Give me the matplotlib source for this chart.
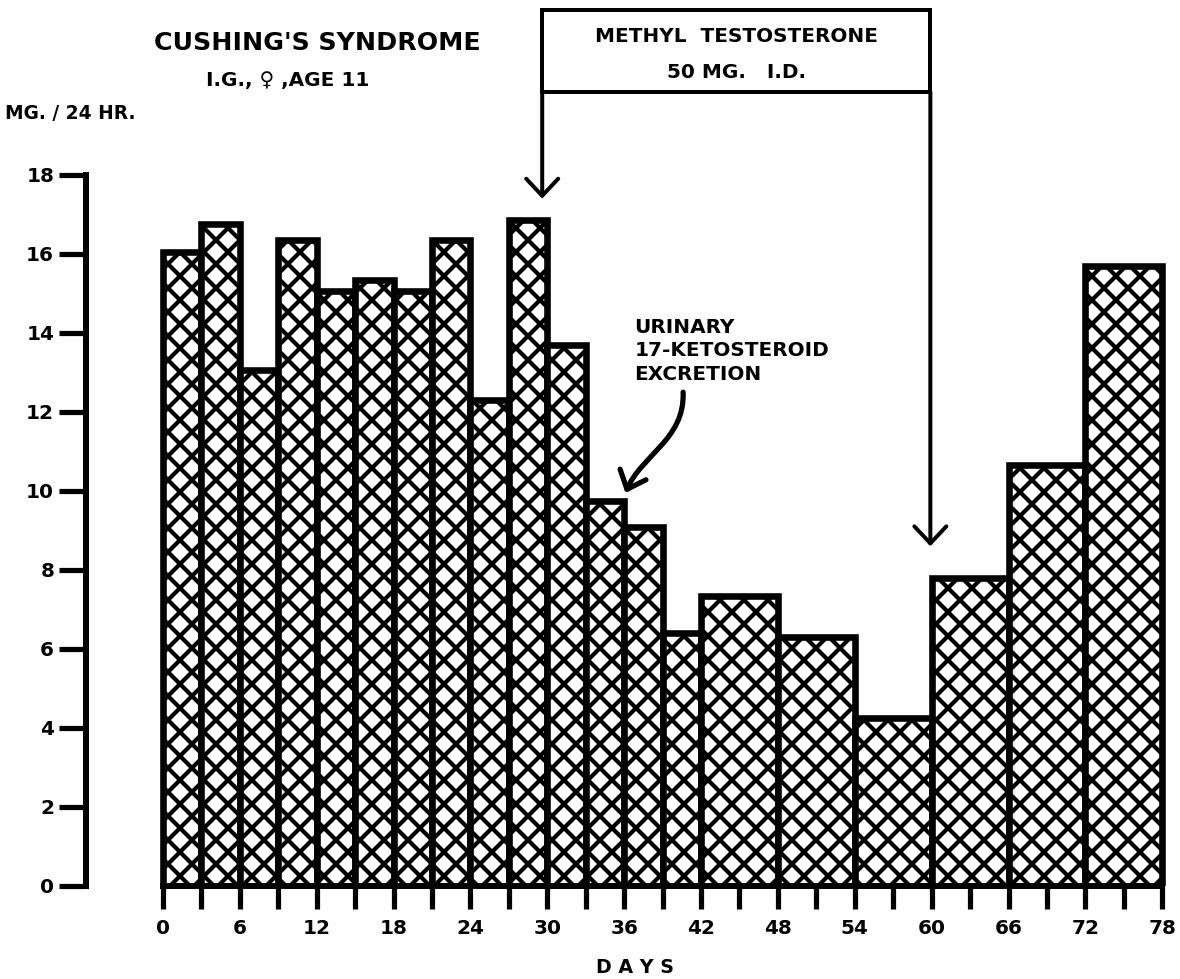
import matplotlib
matplotlib.use("Agg")
import matplotlib.pyplot as plt
from matplotlib.patches import Rectangle, FancyArrowPatch
from matplotlib.path import Path

# Urinary 17-ketosteroid excretion, mg / 24 hr, per collection period (days)
day_start = [0, 3, 6, 9, 12, 15, 18, 21, 24, 27, 30, 33, 36, 39, 42, 48, 54, 60, 66, 72]
day_end = [3, 6, 9, 12, 15, 18, 21, 24, 27, 30, 33, 36, 39, 42, 48, 54, 60, 66, 72, 78]
excretion = [16.05, 16.75, 13.05, 16.35, 15.05, 15.35, 15.05, 16.35, 12.3, 16.85,
             13.7, 9.75, 9.1, 6.4, 7.35, 6.3, 4.25, 7.8, 10.65, 15.7]

x_ticks = list(range(0, 79, 6))
x_minor = list(range(3, 78, 6))
y_ticks = list(range(0, 19, 2))

plt.rcParams["font.family"] = "DejaVu Sans"
plt.rcParams["font.weight"] = "bold"
plt.rcParams["hatch.linewidth"] = 2.1
plt.rcParams["hatch.color"] = "black"

DPI = 144
fig = plt.figure(figsize=(1180 / DPI, 979 / DPI), dpi=DPI)
ax = fig.add_axes([0.0730, 0.0950, 0.9228, 0.7263])

widths = [e - s for s, e in zip(day_start, day_end)]
ax.bar(day_start, excretion, width=widths, align="edge", color="white",
       edgecolor="black", linewidth=3.3, hatch="xx", joinstyle="miter")

ax.set_xlim(-6, 79)
ax.set_ylim(0, 18)
ax.spines["top"].set_visible(False)
ax.spines["right"].set_visible(False)
ax.spines["left"].set_bounds(0, 18)
ax.spines["bottom"].set_bounds(0, 78)
ax.spines["left"].set_linewidth(3.0)
ax.spines["bottom"].set_linewidth(3.0)

ax.set_xticks(x_ticks)
ax.set_xticks(x_minor, minor=True)
ax.set_yticks(y_ticks)
ax.tick_params(axis="x", which="both", direction="out", length=11.5, width=2.6, pad=5, labelsize=10)
ax.tick_params(axis="y", direction="out", length=13.5, width=2.6, pad=2.5, labelsize=10)
for lab in ax.get_xticklabels() + ax.get_yticklabels():
    lab.set_fontweight("bold")

# titles and labels
fig.text(0.2686, 0.956, "CUSHING'S SYNDROME", ha="center", va="center", fontsize=12.6, fontweight="bold")
fig.text(0.244, 0.918, "I.G., \u2640 ,AGE 11", ha="center", va="center", fontsize=10, fontweight="bold")
fig.text(0.004, 0.8836, "MG. / 24 HR.", ha="left", va="center", fontsize=9.3, fontweight="bold")
fig.text(0.538, 0.012, "D A Y S", ha="center", va="center", fontsize=9.5, fontweight="bold")

# treatment box with arrows
box = Rectangle((29.6, 20.1), 59.9 - 29.6, 22.18 - 20.1, fill=False, edgecolor="black",
                linewidth=2.0, clip_on=False)
ax.add_patch(box)
ax.text(44.8, 21.5, "METHYL  TESTOSTERONE", ha="center", va="center", fontsize=10, fontweight="bold")
ax.text(44.8, 20.6, "50 MG.   I.D.", ha="center", va="center", fontsize=10, fontweight="bold")

for x0, y1 in [(29.6, 17.4), (59.9, 8.6)]:
    arr = FancyArrowPatch((x0, 20.1), (x0, y1), arrowstyle="->,head_length=0.85,head_width=0.8",
                          mutation_scale=10, linewidth=2.0, color="black", clip_on=False,
                          capstyle="round", shrinkA=0, shrinkB=0)
    ax.add_patch(arr)

# curved pointer for the bars
ax.text(36.8, 14.15, "URINARY", ha="left", va="center", fontsize=10, fontweight="bold")
ax.text(36.8, 13.55, "17-KETOSTEROID", ha="left", va="center", fontsize=10, fontweight="bold")
ax.text(36.8, 12.95, "EXCRETION", ha="left", va="center", fontsize=10, fontweight="bold")
curve = Path([(40.6, 12.5), (40.75, 11.3), (37.3, 10.9), (36.1, 9.95)],
             [Path.MOVETO, Path.CURVE4, Path.CURVE4, Path.CURVE4])
ax.add_patch(FancyArrowPatch(path=curve, arrowstyle="->,head_length=0.8,head_width=0.7",
                             mutation_scale=10, linewidth=2.6, color="black", clip_on=False,
                             capstyle="round"))

fig.savefig("out.png", dpi=DPI)
